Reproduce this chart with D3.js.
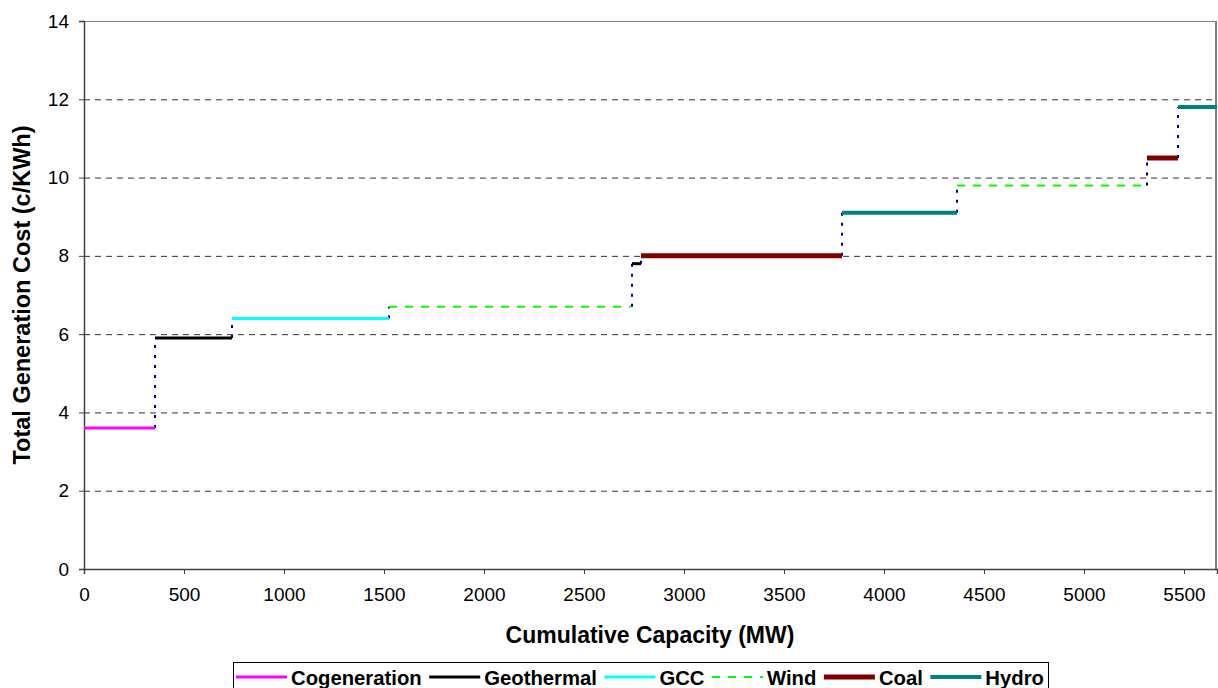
<!DOCTYPE html>
<html>
<head>
<script src="https://cdn.jsdelivr.net/npm/d3@7"></script>
<style>
  body { margin: 0; background: #fff; }
  text { font-family: Arial, "Liberation Sans", sans-serif; }
</style>
</head>
<body>
<script>
// step segments: start / end capacity (MW), cost (c/KWh), source type
var segStart = [0, 355, 740, 1525, 2740, 2785, 3540, 3790, 4365, 5315, 5470];
var segEnd   = [355, 740, 1525, 2735, 2785, 3540, 3790, 4365, 5315, 5470, 5665];
var segCost  = [3.6, 5.9, 6.4, 6.7, 7.8, 8.0, 8.0, 9.1, 9.8, 10.5, 11.8];
var segType  = ["Cogeneration", "Geothermal", "GCC", "Wind", "Geothermal", "Coal", "Coal", "Hydro", "Wind", "Coal", "Hydro"];

var types  = ["Cogeneration", "Geothermal", "GCC", "Wind", "Coal", "Hydro"];
var colors = ["#ff00ff", "#000000", "#00ffff", "#00ff00", "#800000", "#008080"];
var widths = [3, 3, 3, 2, 5, 4];
var dashes = [null, null, null, "8,8", null, null];

var xTicks = [0, 500, 1000, 1500, 2000, 2500, 3000, 3500, 4000, 4500, 5000, 5500];
var yTicks = [0, 2, 4, 6, 8, 10, 12, 14];

var W = 1218, H = 688;
var mLeft = 84, mRight = 1217, mTop = 21, mBottom = 569;

var svg = d3.select("body").append("svg").attr("width", W).attr("height", H);

var x = d3.scaleLinear().domain([0, 5665]).range([mLeft, mRight]);
var y = d3.scaleLinear().domain([0, 14]).range([mBottom, mTop]);

// grid lines
svg.selectAll("line.grid")
  .data(yTicks.filter(function (d) { return d > 0 && d < 14; }))
  .enter().append("line")
  .attr("class", "grid")
  .attr("x1", mLeft).attr("x2", mRight)
  .attr("y1", function (d) { return y(d) + 0.5; })
  .attr("y2", function (d) { return y(d) + 0.5; })
  .attr("stroke", "#333").attr("stroke-width", 1)
  .attr("stroke-dasharray", "6,5");

// frame top + right
svg.append("line").attr("x1", mLeft).attr("x2", mRight).attr("y1", mTop + 0.5).attr("y2", mTop + 0.5)
  .attr("stroke", "#808080").attr("stroke-width", 1);
svg.append("line").attr("x1", mRight - 1).attr("x2", mRight - 1).attr("y1", mTop).attr("y2", mBottom)
  .attr("stroke", "#808080").attr("stroke-width", 2);

// axes
var yAxis = svg.append("g").attr("transform", "translate(" + mLeft + ",0)")
  .call(d3.axisLeft(y).tickValues(yTicks).tickSize(5).tickPadding(10).tickFormat(d3.format("d")));
var xAxis = svg.append("g").attr("transform", "translate(0," + mBottom + ")")
  .call(d3.axisBottom(x).tickValues(xTicks).tickSize(5).tickPadding(14).tickFormat(d3.format("d")));

[xAxis, yAxis].forEach(function (a) {
  a.select(".domain").attr("stroke", "#404040").attr("stroke-width", 1.5);
  a.selectAll(".tick line").attr("stroke", "#404040");
  a.selectAll(".tick text").attr("font-size", 19).attr("fill", "#000")
    .style("font-family", "Arial, 'Liberation Sans', sans-serif");
});

// vertical dotted connectors between steps
var conn = [];
for (var i = 1; i < segStart.length; i++) {
  if (segCost[i] != segCost[i - 1]) {
    conn.push({ x: segStart[i], y0: segCost[i - 1], y1: segCost[i] });
  }
}
svg.selectAll("line.conn").data(conn).enter().append("line")
  .attr("class", "conn")
  .attr("x1", function (d) { return x(d.x); })
  .attr("x2", function (d) { return x(d.x); })
  .attr("y1", function (d) { return y(d.y0); })
  .attr("y2", function (d) { return y(d.y1); })
  .attr("stroke", "#000080").attr("stroke-width", 2)
  .attr("stroke-dasharray", "3,7");

// segments
var segs = segStart.map(function (s, i) {
  return { s: s, e: segEnd[i], c: segCost[i], t: types.indexOf(segType[i]) };
});
svg.selectAll("line.seg").data(segs).enter().append("line")
  .attr("class", "seg")
  .attr("x1", function (d) { return x(d.s); })
  .attr("x2", function (d) { return x(d.e); })
  .attr("y1", function (d) { return y(d.c); })
  .attr("y2", function (d) { return y(d.c); })
  .attr("stroke", function (d) { return colors[d.t]; })
  .attr("stroke-width", function (d) { return widths[d.t]; })
  .attr("stroke-dasharray", function (d) { return dashes[d.t]; });

// axis titles
svg.append("text").attr("x", 650).attr("y", 643)
  .attr("text-anchor", "middle").attr("font-size", 23).attr("font-weight", "bold")
  .text("Cumulative Capacity (MW)");
svg.append("text").attr("transform", "translate(30," + 295 + ") rotate(-90)")
  .attr("text-anchor", "middle").attr("font-size", 23.5).attr("font-weight", "bold")
  .text("Total Generation Cost (c/KWh)");

// legend
var lg = svg.append("g");
lg.append("rect").attr("x", 233.5).attr("y", 662.5).attr("width", 815).attr("height", 30)
  .attr("fill", "#fff").attr("stroke", "#000").attr("stroke-width", 1);
var lx = 236;
types.forEach(function (t, i) {
  lg.append("line").attr("x1", lx).attr("x2", lx + 51).attr("y1", 677).attr("y2", 677)
    .attr("stroke", colors[i]).attr("stroke-width", widths[i])
    .attr("stroke-dasharray", dashes[i]);
  var tx = lg.append("text").attr("x", lx + 55).attr("y", 685)
    .attr("font-size", 20.3).attr("font-weight", "bold").text(t);
  lx = lx + 55 + tx.node().getComputedTextLength() + 7.5;
});
</script>
</body>
</html>
